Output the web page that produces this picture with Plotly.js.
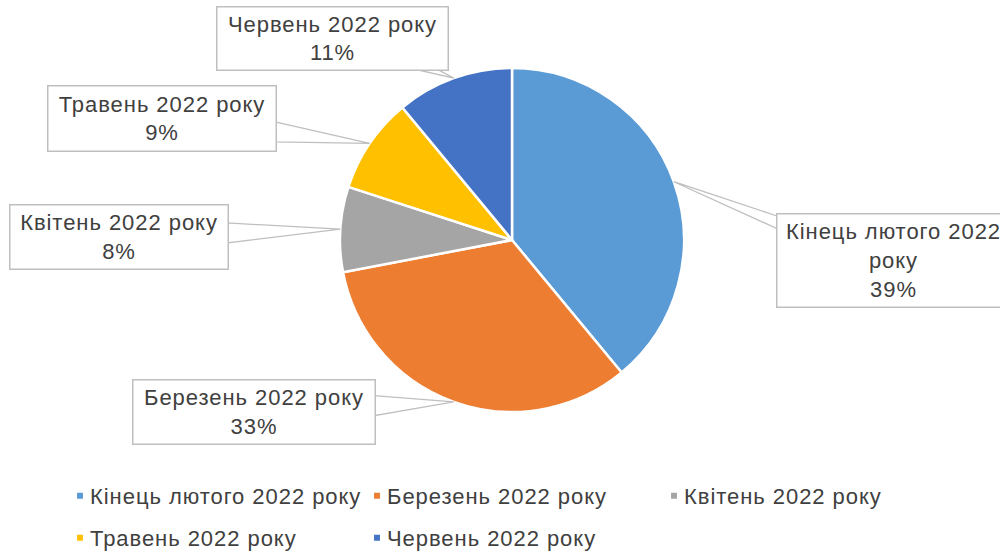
<!DOCTYPE html>
<html>
<head>
<meta charset="utf-8">
<script src="https://cdn.plot.ly/plotly-3.0.1.min.js"></script>
<style>
html,body{margin:0;padding:0;background:#fff;}
#chart{width:1000px;height:552px;}
#chart .annotation-text, #chart .legendtext{letter-spacing:0.95px;}
</style>
</head>
<body>
<div id="chart"></div>
<script>
// ---- data ----
const labels = ['Кінець лютого 2022 року', 'Березень 2022 року', 'Квітень 2022 року', 'Травень 2022 року', 'Червень 2022 року'];
const values = [39, 33, 8, 9, 11];
const boxLabels = ['Кінець лютого 2022<br>року', 'Березень 2022 року', 'Квітень 2022 року', 'Травень 2022 року', 'Червень 2022 року'];
const colors = ['#5B9BD5', '#ED7D31', '#A5A5A5', '#FFC000', '#4472C4'];

// ---- layout constants ----
const W = 1000, H = 552;
const CX = 512, CY = 240, R = 172;
const FS = 22;
const FONT = 'Liberation Sans, Arial, sans-serif';
const TXT = '#404040';
const BORDER = '#BFBFBF';
// label box centers and sizes (pixels)
const boxes = [
  {cx: 893, cy: 260, w: 232, h: 92},
  {cx: 253.5, cy: 411.5, w: 241, h: 63},
  {cx: 118.5, cy: 236.5, w: 217, h: 63},
  {cx: 161.5, cy: 118, w: 227, h: 64},
  {cx: 332, cy: 39, w: 230, h: 62}
];
const LEGEND_ROW_GAP = 42;

const px2x = p => p / W;
const py2y = p => 1 - p / H;

const total = values.reduce((a, b) => a + b, 0);
const annotations = [];
const shapes = [];
let cum = 0;
values.forEach((v, i) => {
  const mid = (cum + v / 2) / total * 2 * Math.PI;
  cum += v;
  const tx = CX + R * Math.sin(mid);
  const ty = CY - R * Math.cos(mid);
  const b = boxes[i];
  const pct = Math.round(v / total * 100) + '%';
  // wedge pointer from box edge to slice edge
  const dx = tx - b.cx, dy = ty - b.cy;
  const tX = Math.abs(dx) > 0 ? (b.w / 2) / Math.abs(dx) : Infinity;
  const tY = Math.abs(dy) > 0 ? (b.h / 2) / Math.abs(dy) : Infinity;
  let p1, p2;
  const hw = 10;
  if (tX < tY) {
    const ex = b.cx + Math.sign(dx) * b.w / 2;
    const ey = b.cy + dy * tX;
    p1 = [ex, Math.max(b.cy - b.h / 2 + 2, ey - hw)];
    p2 = [ex, Math.min(b.cy + b.h / 2 - 2, ey + hw)];
  } else {
    const ey = b.cy + Math.sign(dy) * b.h / 2;
    const ex = b.cx + dx * tY;
    p1 = [Math.max(b.cx - b.w / 2 + 2, ex - hw), ey];
    p2 = [Math.min(b.cx + b.w / 2 - 2, ex + hw), ey];
  }
  shapes.push({
    type: 'path', xref: 'paper', yref: 'paper', layer: 'above',
    path: 'M' + px2x(p1[0]) + ',' + py2y(p1[1]) + 'L' + px2x(tx) + ',' + py2y(ty) + 'L' + px2x(p2[0]) + ',' + py2y(p2[1]) + 'Z',
    line: {color: BORDER, width: 1.3}, fillcolor: '#ffffff'
  });
  annotations.push({
    xref: 'paper', yref: 'paper', x: px2x(b.cx), y: py2y(b.cy),
    xanchor: 'center', yanchor: 'middle', showarrow: false,
    text: boxLabels[i] + '<br>' + pct,
    width: b.w, height: b.h, borderpad: 0,
    bordercolor: BORDER, borderwidth: 1.5, bgcolor: '#ffffff',
    font: {family: FONT, size: FS, color: TXT}
  });
});

const trace = {
  type: 'pie',
  labels: labels,
  values: values,
  sort: false,
  direction: 'clockwise',
  rotation: 0,
  textinfo: 'none',
  hoverinfo: 'label+percent',
  marker: {colors: colors, line: {color: '#ffffff', width: 2.5}},
  domain: {x: [(CX - R) / W, (CX + R) / W], y: [1 - (CY + R) / H, 1 - (CY - R) / H]}
};

const layout = {
  width: W, height: H,
  margin: {l: 0, r: 0, t: 0, b: 0, autoexpand: false},
  paper_bgcolor: '#ffffff',
  showlegend: true,
  legend: {
    orientation: 'h', x: 50 / W, xanchor: 'left', y: 1 - 475 / H, yanchor: 'top',
    entrywidth: 252, entrywidthmode: 'pixels',
    font: {family: FONT, size: FS, color: TXT},
    traceorder: 'normal'
  },
  annotations: annotations,
  shapes: shapes
};

const gd = document.getElementById('chart');
function tweakLegend() {
  // smaller square legend keys placed close to the text, wider row spacing
  gd.querySelectorAll('.legend .legendpie').forEach(p => {
    p.setAttribute('d', 'M4.2,4.2H-4.2V-4.2H4.2Z');
    p.setAttribute('transform', 'translate(30,0)');
  });
  gd.querySelectorAll('.legend [clip-path]').forEach(e => e.removeAttribute('clip-path'));
  const items = Array.from(gd.querySelectorAll('.legend .traces'));
  const ys = [];
  items.forEach(t => {
    const m = /translate\(\s*([-\d.]+)[ ,]+([-\d.]+)/.exec(t.getAttribute('transform') || '');
    if (m) { t._lx = +m[1]; t._ly = +m[2]; if (ys.indexOf(t._ly) < 0) ys.push(t._ly); }
  });
  ys.sort((a, b) => a - b);
  items.forEach(t => {
    if (t._lx === undefined) return;
    const row = ys.indexOf(t._ly);
    t.setAttribute('transform', 'translate(' + t._lx + ',' + (ys[0] + row * LEGEND_ROW_GAP) + ')');
  });
}
Plotly.newPlot(gd, [trace], layout, {displayModeBar: false, staticPlot: true}).then(tweakLegend);
</script>
</body>
</html>
